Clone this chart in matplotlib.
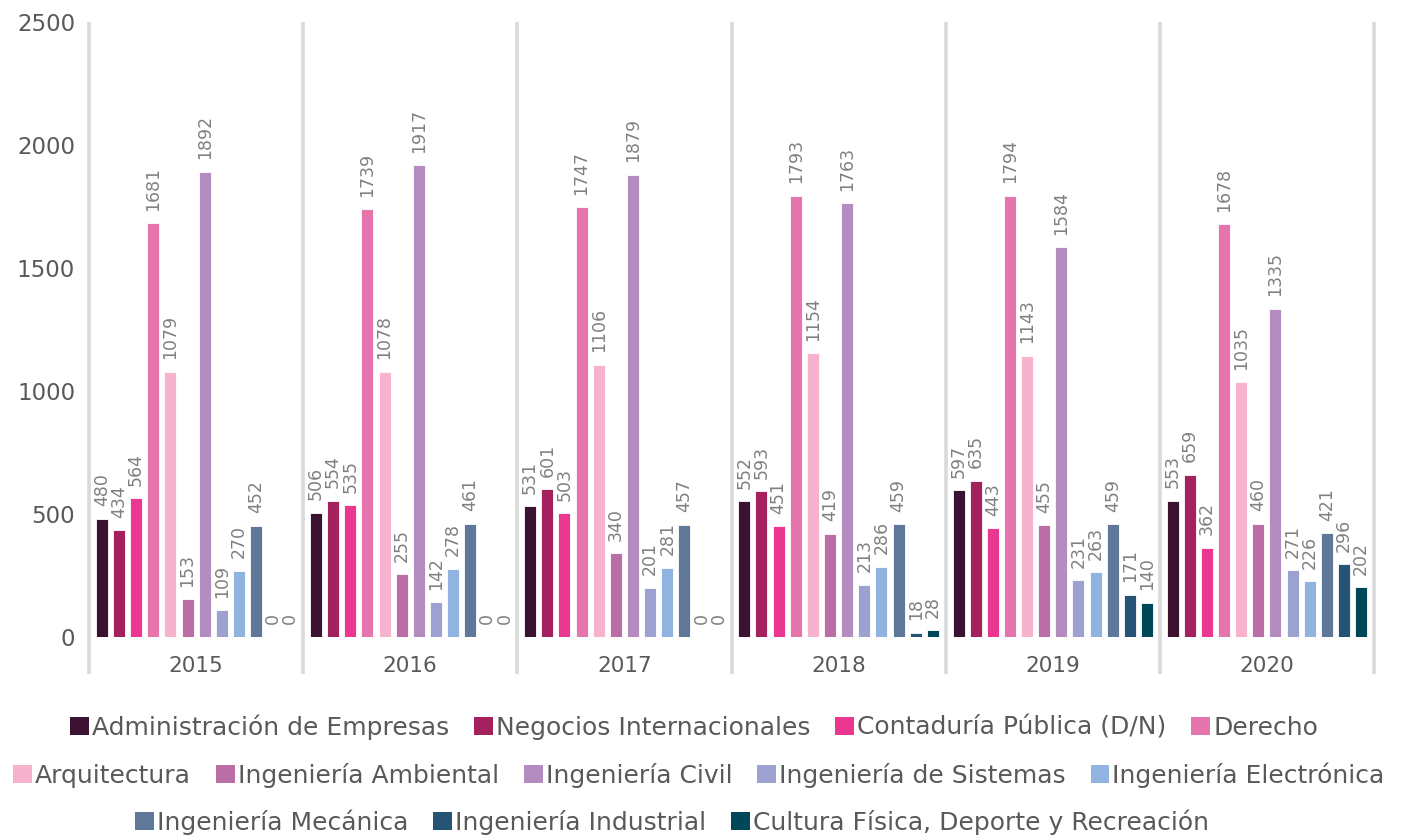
import matplotlib
matplotlib.use("Agg")
import matplotlib.pyplot as plt
from matplotlib.patches import Patch
import numpy as np

years = ["2015", "2016", "2017", "2018", "2019", "2020"]
series_names = [
    "Administración de Empresas", "Negocios Internacionales", "Contaduría Pública (D/N)", "Derecho",
    "Arquitectura", "Ingeniería Ambiental", "Ingeniería Civil", "Ingeniería de Sistemas",
    "Ingeniería Electrónica", "Ingeniería Mecánica", "Ingeniería Industrial",
    "Cultura Física, Deporte y Recreación",
]
admin = [480, 506, 531, 552, 597, 553]
negocios = [434, 554, 601, 593, 635, 659]
contaduria = [564, 535, 503, 451, 443, 362]
derecho = [1681, 1739, 1747, 1793, 1794, 1678]
arquitectura = [1079, 1078, 1106, 1154, 1143, 1035]
ambiental = [153, 255, 340, 419, 455, 460]
civil = [1892, 1917, 1879, 1763, 1584, 1335]
sistemas = [109, 142, 201, 213, 231, 271]
electronica = [270, 278, 281, 286, 263, 226]
mecanica = [452, 461, 457, 459, 459, 421]
industrial = [0, 0, 0, 18, 171, 296]
cultura = [0, 0, 0, 28, 140, 202]
series_values = [admin, negocios, contaduria, derecho, arquitectura, ambiental,
                 civil, sistemas, electronica, mecanica, industrial, cultura]
colors = ["#3b1232", "#a4215e", "#ec3790", "#e674ad", "#f7b3cd", "#bb6ea5",
          "#b48cc0", "#9da1d0", "#91b3df", "#5f7899", "#265474", "#004858"]

plt.rcParams['font.family'] = ['DejaVu Sans']
fig = plt.figure(figsize=(14.08, 8.38), dpi=100)
ax = fig.add_axes([89/1408, 1-637/838, (1374-89)/1408, (637-22)/838])

x = np.arange(len(years))
slot = 0.08
width = 0.056
n = len(series_values)
handles = []
for j, (vals, c, name) in enumerate(zip(series_values, colors, series_names)):
    pos = x + (j - (n - 1) / 2) * slot
    ax.bar(pos, vals, width=width, color=c, edgecolor="white", linewidth=0.6, label=name)
    handles.append(Patch(facecolor=c, label=name))
    for xp, v in zip(pos, vals):
        ax.annotate(str(v), (xp, v), xytext=(0, 9), textcoords="offset points",
                    rotation=90, ha="center", va="bottom", fontsize=12.5, color="#808080")

ax.set_xlim(-0.5, len(years) - 0.5)
ax.set_ylim(0, 2500)
ax.set_yticks([0, 500, 1000, 1500, 2000, 2500])
ax.set_xticks(x)
ax.set_xticklabels(years)
ax.tick_params(axis="y", length=0, pad=10, labelsize=16.5, labelcolor="#595959")
ax.tick_params(axis="x", length=0, pad=14, labelsize=15.5, labelcolor="#595959")
for s in ax.spines.values():
    s.set_visible(False)

trans = ax.get_xaxis_transform()
for b in np.arange(-0.5, len(years), 1.0):
    ax.plot([b, b], [-0.06, 1.0], transform=trans, color="#d9d9d9", lw=2.6,
            clip_on=False, zorder=0, solid_capstyle="butt")

rows = [(0, 4, 694, 727), (4, 9, 699, 775), (9, 12, 672, 822)]
for a, b, xc, yp in rows:
    fig.legend(handles=handles[a:b], loc="center", bbox_to_anchor=(xc / 1408, 1 - yp / 838),
               ncol=b - a, frameon=False, fontsize=18, handlelength=0.75, handleheight=0.75,
               handletextpad=0.12, columnspacing=1.0, borderaxespad=0, borderpad=0,
               labelcolor="#595959")

fig.savefig("out.png", dpi=100)
